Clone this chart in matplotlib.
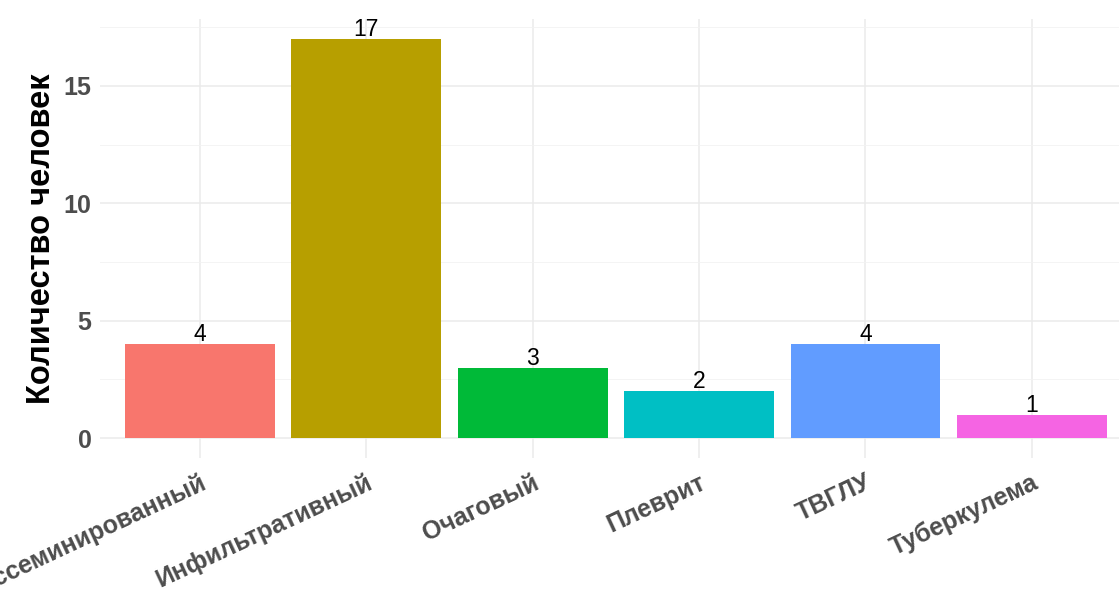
import matplotlib
matplotlib.use("Agg")
import matplotlib.pyplot as plt
from matplotlib.ticker import MultipleLocator

plt.rcParams['font.family'] = ['Liberation Sans', 'DejaVu Sans']

categories = ["Диссеминированный", "Инфильтративный", "Очаговый",
              "Плеврит", "ТВГЛУ", "Туберкулема"]
counts = [4, 17, 3, 2, 4, 1]
colors = ["#F8766D", "#B79F00", "#00BA38", "#00BFC4", "#619CFF", "#F564E3"]
y_ticks = [0, 5, 10, 15]
y_label = "Количество человек"

W, H = 1119, 592
fig = plt.figure(figsize=(W / 100, H / 100), dpi=100)

# panel: x from 0.4 (left edge) with ~166.4 px per category, y from -0.85 to 17.85
px_per_cat = 166.4
left_px, top_px, bottom_px = 100, 19, 458
ax = fig.add_axes([left_px / W, (H - bottom_px) / H,
                   (W - left_px) / W, (bottom_px - top_px) / H])

x = list(range(1, len(categories) + 1))
ax.bar(x, counts, width=0.9, color=colors, zorder=2)
for xi, c in zip(x, counts):
    ax.annotate(str(c), (xi, c), xytext=(0, -1.5), textcoords="offset points",
                ha="center", va="bottom", fontsize=16.5, color="black", zorder=3)

ax.set_xlim(0.4, 0.4 + (W - left_px) / px_per_cat)
ymax = max(counts)
ax.set_ylim(-0.05 * ymax, ymax * 1.05)

ax.set_xticks(x)
ax.set_xticklabels(categories, rotation=25, ha="right", va="top",
                   rotation_mode="anchor", fontsize=18, fontweight="bold",
                   color="#4D4D4D")
ax.set_yticks(y_ticks)
ax.set_yticklabels([str(t) for t in y_ticks], fontsize=18, fontweight="bold",
                   color="#4D4D4D")
ax.yaxis.set_minor_locator(MultipleLocator(2.5))
ax.tick_params(axis="both", which="both", length=0)
ax.tick_params(axis="x", pad=9)
ax.tick_params(axis="y", pad=6)

ax.grid(True, which="major", color="#EBEBEB", linewidth=1.1, zorder=0)
ax.grid(True, which="minor", axis="y", color="#F2F2F2", linewidth=0.6, zorder=0)
ax.set_axisbelow(True)
for s in ax.spines.values():
    s.set_visible(False)

ax.set_ylabel(y_label, fontsize=23.5, fontweight="bold", color="black", labelpad=5)

fig.savefig("out.png", dpi=100)
